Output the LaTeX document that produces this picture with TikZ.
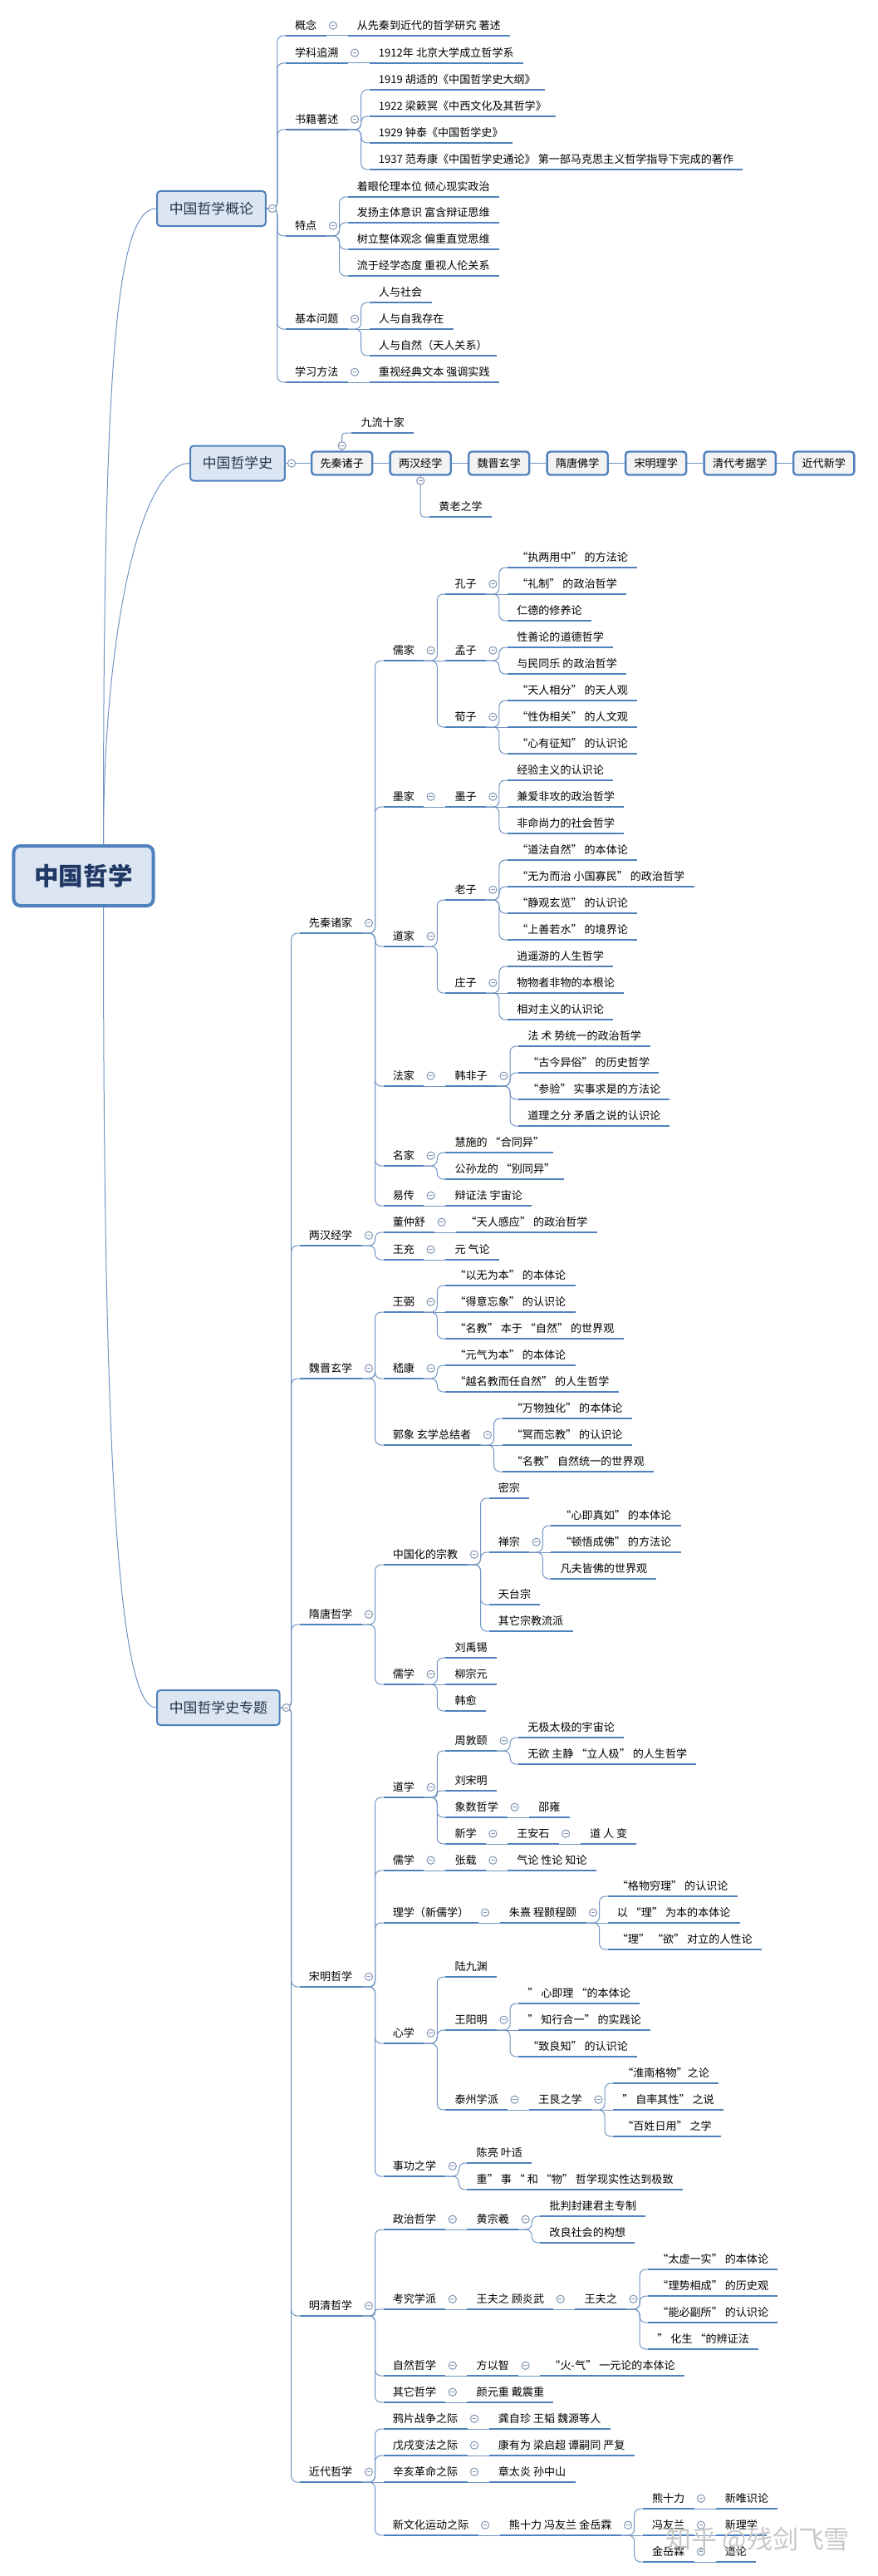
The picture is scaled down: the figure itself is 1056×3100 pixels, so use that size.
\documentclass[tikz,border=0pt]{standalone}
\usepackage{fontspec}
\setmainfont{Noto Sans CJK SC}
\usetikzlibrary{positioning}

\definecolor{ulblue}{RGB}{79,129,189}
\definecolor{linkblue}{RGB}{112,148,196}
\definecolor{boxfill}{RGB}{220,230,242}
\definecolor{erafill}{RGB}{243,243,243}
\definecolor{foldgray}{RGB}{128,148,180}
\definecolor{boxtext}{RGB}{38,52,75}
\definecolor{roottext}{RGB}{31,56,100}

\tikzset{
  topic/.style={anchor=south west, font=\fontsize{9.3}{11}\selectfont,
    inner xsep=2.75mm, inner ysep=1.35mm, text height=2.9mm, text depth=0.4mm,
    append after command={(\tikzlastnode.south west) edge[uline] (\tikzlastnode.south east)}},
  uline/.style={draw=ulblue, line width=0.65mm},
  rootbox/.style={draw=ulblue, fill=boxfill, line width=1mm, rounded corners=2mm,
    font=\fontsize{21}{24}\selectfont\bfseries, text=roottext,
    minimum width=42mm, minimum height=18mm},
  mainbox/.style={draw=ulblue, fill=boxfill, line width=0.5mm, rounded corners=1mm,
    font=\fontsize{12}{14}\selectfont, text=boxtext, inner xsep=3.7mm, minimum height=10.5mm},
  erabox/.style={draw=ulblue, fill=erafill, line width=0.6mm, rounded corners=1mm,
    font=\fontsize{9.3}{11}\selectfont, inner xsep=2.6mm, minimum height=7mm},
  link/.style={draw=linkblue, line width=0.25mm},
  foldmark/.style={circle, draw=foldgray, fill=white, line width=0.25mm, minimum size=2.3mm,
    inner sep=0pt, path picture={\draw[foldgray, line width=0.25mm]
      ([xshift=-0.6mm]path picture bounding box.center) -- ([xshift=0.6mm]path picture bounding box.center);}}
}

\begin{document}
\begin{tikzpicture}[x=0.25mm, y=-0.25mm]
  \fill[white] (0,0) rectangle (1056,3100);
  \useasboundingbox (0,0) rectangle (1056,3100);

  \node[rootbox] (root) at (100.5,1054) {中国哲学};

  % 中国哲学概论
  \node[mainbox, anchor=west] (gl) at (188,251) {中国哲学概论};
  \node[topic] (gn) at ([xshift=5.75mm]gl.east |- 0,43) {概念};
  \node[topic] (xk) at ([xshift=5.75mm]gl.east |- 0,76) {学科追溯};
  \node[topic] (sj) at ([xshift=5.75mm]gl.east |- 0,156) {书籍著述};
  \node[topic] (td) at ([xshift=5.75mm]gl.east |- 0,284) {特点};
  \node[topic] (jb) at ([xshift=5.75mm]gl.east |- 0,396) {基本问题};
  \node[topic] (xf) at ([xshift=5.75mm]gl.east |- 0,460) {学习方法};
  \node[topic] (gn1) at ([xshift=6.5mm]gn.south east |- 0,43) {从先秦到近代的哲学研究 著述};
  \node[topic] (xk1) at ([xshift=6.5mm]xk.south east |- 0,76) {1912年 北京大学成立哲学系};
  \node[topic] (sj1) at ([xshift=6.5mm]sj.south east |- 0,108) {1919 胡适的《中国哲学史大纲》};
  \node[topic] (sj2) at ([xshift=6.5mm]sj.south east |- 0,140) {1922 梁簌冥《中西文化及其哲学》};
  \node[topic] (sj3) at ([xshift=6.5mm]sj.south east |- 0,172) {1929 钟泰《中国哲学史》};
  \node[topic] (sj4) at ([xshift=6.5mm]sj.south east |- 0,204) {1937 范寿康《中国哲学史通论》 第一部马克思主义哲学指导下完成的著作};
  \node[topic] (td1) at ([xshift=6.5mm]td.south east |- 0,237) {着眼伦理本位 倾心现实政治};
  \node[topic] (td2) at ([xshift=6.5mm]td.south east |- 0,268) {发扬主体意识 富含辩证思维};
  \node[topic] (td3) at ([xshift=6.5mm]td.south east |- 0,300) {树立整体观念 偏重直觉思维};
  \node[topic] (td4) at ([xshift=6.5mm]td.south east |- 0,332) {流于经学态度 重视人伦关系};
  \node[topic] (jb1) at ([xshift=6.5mm]jb.south east |- 0,364) {人与社会};
  \node[topic] (jb2) at ([xshift=6.5mm]jb.south east |- 0,396) {人与自我存在};
  \node[topic] (jb3) at ([xshift=6.5mm]jb.south east |- 0,428) {人与自然（天人关系）};
  \node[topic] (xf1) at ([xshift=6.5mm]xf.south east |- 0,460) {重视经典文本 强调实践};

  % 中国哲学史
  \node[mainbox, anchor=west] (zs) at (228,557.5) {中国哲学史};
  \node[erabox, right=7.5mm of zs] (xqzz) {先秦诸子};
  \node[erabox, right=4.75mm of xqzz] (lhjx) {两汉经学};
  \node[erabox, right=4.75mm of lhjx] (wjxx) {魏晋玄学};
  \node[erabox, right=4.75mm of wjxx] (stfx) {隋唐佛学};
  \node[erabox, right=4.75mm of stfx] (smlx) {宋明理学};
  \node[erabox, right=4.75mm of smlx] (qdkj) {清代考据学};
  \node[erabox, right=4.75mm of qdkj] (jdxx) {近代新学};
  \node[topic] (jlsj) at ([xshift=2.9mm]xqzz.north |- 0,521) {九流十家};
  \node[topic] (hlzx) at ([xshift=2.75mm]lhjx.south |- 0,622) {黄老之学};

  % 中国哲学史专题
  \node[mainbox, anchor=west] (zt) at (188,2055) {中国哲学史专题};
  \node[topic] (qz) at ([xshift=5.75mm]zt.east |- 0,1123) {先秦诸家};
  \node[topic] (lhj) at ([xshift=5.75mm]zt.east |- 0,1499) {两汉经学};
  \node[topic] (wj) at ([xshift=5.75mm]zt.east |- 0,1659) {魏晋玄学};
  \node[topic] (sts) at ([xshift=5.75mm]zt.east |- 0,1955) {隋唐哲学};
  \node[topic] (smz) at ([xshift=5.75mm]zt.east |- 0,2391) {宋明哲学};
  \node[topic] (mq) at ([xshift=5.75mm]zt.east |- 0,2787) {明清哲学};
  \node[topic] (jd) at ([xshift=5.75mm]zt.east |- 0,2987) {近代哲学};

  % 先秦诸家
  \node[topic] (rj) at ([xshift=6.5mm]qz.south east |- 0,795) {儒家};
  \node[topic] (mj) at ([xshift=6.5mm]qz.south east |- 0,971) {墨家};
  \node[topic] (dj) at ([xshift=6.5mm]qz.south east |- 0,1139) {道家};
  \node[topic] (fj) at ([xshift=6.5mm]qz.south east |- 0,1307) {法家};
  \node[topic] (mjia) at ([xshift=6.5mm]qz.south east |- 0,1403) {名家};
  \node[topic] (yz) at ([xshift=6.5mm]qz.south east |- 0,1451) {易传};
  \node[topic] (kz) at ([xshift=6.5mm]rj.south east |- 0,715) {孔子};
  \node[topic] (mz) at ([xshift=6.5mm]rj.south east |- 0,795) {孟子};
  \node[topic] (xz) at ([xshift=6.5mm]rj.south east |- 0,875) {荀子};
  \node[topic] (kz1) at ([xshift=6.5mm]kz.south east |- 0,683) {“执两用中” 的方法论};
  \node[topic] (kz2) at ([xshift=6.5mm]kz.south east |- 0,715) {“礼制” 的政治哲学};
  \node[topic] (kz3) at ([xshift=6.5mm]kz.south east |- 0,747) {仁德的修养论};
  \node[topic] (mz1) at ([xshift=6.5mm]mz.south east |- 0,779) {性善论的道德哲学};
  \node[topic] (mz2) at ([xshift=6.5mm]mz.south east |- 0,811) {与民同乐 的政治哲学};
  \node[topic] (xz1) at ([xshift=6.5mm]xz.south east |- 0,843) {“天人相分” 的天人观};
  \node[topic] (xz2) at ([xshift=6.5mm]xz.south east |- 0,875) {“性伪相关” 的人文观};
  \node[topic] (xz3) at ([xshift=6.5mm]xz.south east |- 0,907) {“心有征知” 的认识论};
  \node[topic] (mo) at ([xshift=6.5mm]mj.south east |- 0,971) {墨子};
  \node[topic] (mo1) at ([xshift=6.5mm]mo.south east |- 0,939) {经验主义的认识论};
  \node[topic] (mo2) at ([xshift=6.5mm]mo.south east |- 0,971) {兼爱非攻的政治哲学};
  \node[topic] (mo3) at ([xshift=6.5mm]mo.south east |- 0,1003) {非命尚力的社会哲学};
  \node[topic] (lz) at ([xshift=6.5mm]dj.south east |- 0,1083) {老子};
  \node[topic] (zz) at ([xshift=6.5mm]dj.south east |- 0,1195) {庄子};
  \node[topic] (lz1) at ([xshift=6.5mm]lz.south east |- 0,1035) {“道法自然” 的本体论};
  \node[topic] (lz2) at ([xshift=6.5mm]lz.south east |- 0,1067) {“无为而治 小国寡民” 的政治哲学};
  \node[topic] (lz3) at ([xshift=6.5mm]lz.south east |- 0,1099) {“静观玄览” 的认识论};
  \node[topic] (lz4) at ([xshift=6.5mm]lz.south east |- 0,1131) {“上善若水” 的境界论};
  \node[topic] (zz1) at ([xshift=6.5mm]zz.south east |- 0,1163) {逍遥游的人生哲学};
  \node[topic] (zz2) at ([xshift=6.5mm]zz.south east |- 0,1195) {物物者非物的本根论};
  \node[topic] (zz3) at ([xshift=6.5mm]zz.south east |- 0,1227) {相对主义的认识论};
  \node[topic] (hf) at ([xshift=6.5mm]fj.south east |- 0,1307) {韩非子};
  \node[topic] (hf1) at ([xshift=6.5mm]hf.south east |- 0,1259) {法 术 势统一的政治哲学};
  \node[topic] (hf2) at ([xshift=6.5mm]hf.south east |- 0,1291) {“古今异俗” 的历史哲学};
  \node[topic] (hf3) at ([xshift=6.5mm]hf.south east |- 0,1323) {“参验” 实事求是的方法论};
  \node[topic] (hf4) at ([xshift=6.5mm]hf.south east |- 0,1355) {道理之分 矛盾之说的认识论};
  \node[topic] (mjia1) at ([xshift=6.5mm]mjia.south east |- 0,1387) {慧施的 “合同异”};
  \node[topic] (mjia2) at ([xshift=6.5mm]mjia.south east |- 0,1419) {公孙龙的 “别同异”};
  \node[topic] (yz1) at ([xshift=6.5mm]yz.south east |- 0,1451) {辩证法 宇宙论};

  % 两汉经学 / 魏晋玄学
  \node[topic] (dzs) at ([xshift=6.5mm]lhj.south east |- 0,1483) {董仲舒};
  \node[topic] (wc) at ([xshift=6.5mm]lhj.south east |- 0,1516) {王充};
  \node[topic] (dzs1) at ([xshift=6.5mm]dzs.south east |- 0,1483) {“天人感应” 的政治哲学};
  \node[topic] (wc1) at ([xshift=6.5mm]wc.south east |- 0,1516) {元 气论};
  \node[topic] (wb) at ([xshift=6.5mm]wj.south east |- 0,1579) {王弼};
  \node[topic] (jk) at ([xshift=6.5mm]wj.south east |- 0,1659) {嵇康};
  \node[topic] (gx) at ([xshift=6.5mm]wj.south east |- 0,1739) {郭象 玄学总结者};
  \node[topic] (wb1) at ([xshift=6.5mm]wb.south east |- 0,1547) {“以无为本” 的本体论};
  \node[topic] (wb2) at ([xshift=6.5mm]wb.south east |- 0,1579) {“得意忘象” 的认识论};
  \node[topic] (wb3) at ([xshift=6.5mm]wb.south east |- 0,1611) {“名教” 本于 “自然” 的世界观};
  \node[topic] (jk1) at ([xshift=6.5mm]jk.south east |- 0,1643) {“元气为本” 的本体论};
  \node[topic] (jk2) at ([xshift=6.5mm]jk.south east |- 0,1675) {“越名教而任自然” 的人生哲学};
  \node[topic] (gx1) at ([xshift=6.5mm]gx.south east |- 0,1707) {“万物独化” 的本体论};
  \node[topic] (gx2) at ([xshift=6.5mm]gx.south east |- 0,1739) {“冥而忘教” 的认识论};
  \node[topic] (gx3) at ([xshift=6.5mm]gx.south east |- 0,1771) {“名教” 自然统一的世界观};

  % 隋唐哲学
  \node[topic] (zh) at ([xshift=6.5mm]sts.south east |- 0,1883) {中国化的宗教};
  \node[topic] (rx) at ([xshift=6.5mm]sts.south east |- 0,2027) {儒学};
  \node[topic] (mi) at ([xshift=6.5mm]zh.south east |- 0,1803) {密宗};
  \node[topic] (cz) at ([xshift=6.5mm]zh.south east |- 0,1868) {禅宗};
  \node[topic] (tt) at ([xshift=6.5mm]zh.south east |- 0,1931) {天台宗};
  \node[topic] (qt) at ([xshift=6.5mm]zh.south east |- 0,1963) {其它宗教流派};
  \node[topic] (cz1) at ([xshift=6.5mm]cz.south east |- 0,1836) {“心即真如” 的本体论};
  \node[topic] (cz2) at ([xshift=6.5mm]cz.south east |- 0,1868) {“顿悟成佛” 的方法论};
  \node[topic] (cz3) at ([xshift=6.5mm]cz.south east |- 0,1900) {凡夫皆佛的世界观};
  \node[topic] (lyx) at ([xshift=6.5mm]rx.south east |- 0,1995) {刘禹锡};
  \node[topic] (lzy) at ([xshift=6.5mm]rx.south east |- 0,2027) {柳宗元};
  \node[topic] (hy) at ([xshift=6.5mm]rx.south east |- 0,2059) {韩愈};

  % 宋明哲学
  \node[topic] (dx) at ([xshift=6.5mm]smz.south east |- 0,2163) {道学};
  \node[topic] (rx2) at ([xshift=6.5mm]smz.south east |- 0,2251) {儒学};
  \node[topic] (lx) at ([xshift=6.5mm]smz.south east |- 0,2314) {理学（新儒学）};
  \node[topic] (xinx) at ([xshift=6.5mm]smz.south east |- 0,2459) {心学};
  \node[topic] (sg) at ([xshift=6.5mm]smz.south east |- 0,2619) {事功之学};
  \node[topic] (zdy) at ([xshift=6.5mm]dx.south east |- 0,2107) {周敦颐};
  \node[topic] (lsm) at ([xshift=6.5mm]dx.south east |- 0,2155) {刘宋明};
  \node[topic] (xs) at ([xshift=6.5mm]dx.south east |- 0,2187) {象数哲学};
  \node[topic] (xx) at ([xshift=6.5mm]dx.south east |- 0,2219) {新学};
  \node[topic] (zdy1) at ([xshift=6.5mm]zdy.south east |- 0,2091) {无极太极的宇宙论};
  \node[topic] (zdy2) at ([xshift=6.5mm]zdy.south east |- 0,2123) {无欲 主静 “立人极” 的人生哲学};
  \node[topic] (sy) at ([xshift=6.5mm]xs.south east |- 0,2187) {邵雍};
  \node[topic] (was) at ([xshift=6.5mm]xx.south east |- 0,2219) {王安石};
  \node[topic] (was1) at ([xshift=6.5mm]was.south east |- 0,2219) {道 人 变};
  \node[topic] (zzai) at ([xshift=6.5mm]rx2.south east |- 0,2251) {张载};
  \node[topic] (zzai1) at ([xshift=6.5mm]zzai.south east |- 0,2251) {气论 性论 知论};
  \node[topic] (zx) at ([xshift=6.5mm]lx.south east |- 0,2314) {朱熹 程颢程颐};
  \node[topic] (zx1) at ([xshift=6.5mm]zx.south east |- 0,2282) {“格物穷理” 的认识论};
  \node[topic] (zx2) at ([xshift=6.5mm]zx.south east |- 0,2314) {以 “理” 为本的本体论};
  \node[topic] (zx3) at ([xshift=6.5mm]zx.south east |- 0,2346) {“理” “欲” 对立的人性论};
  \node[topic] (ljy) at ([xshift=6.5mm]xinx.south east |- 0,2379) {陆九渊};
  \node[topic] (wym) at ([xshift=6.5mm]xinx.south east |- 0,2443) {王阳明};
  \node[topic] (tz) at ([xshift=6.5mm]xinx.south east |- 0,2539) {泰州学派};
  \node[topic] (wym1) at ([xshift=6.5mm]wym.south east |- 0,2411) {” 心即理 “的本体论};
  \node[topic] (wym2) at ([xshift=6.5mm]wym.south east |- 0,2443) {” 知行合一” 的实践论};
  \node[topic] (wym3) at ([xshift=6.5mm]wym.south east |- 0,2475) {“致良知” 的认识论};
  \node[topic] (wg) at ([xshift=6.5mm]tz.south east |- 0,2539) {王艮之学};
  \node[topic] (wg1) at ([xshift=6.5mm]wg.south east |- 0,2507) {“淮南格物”之论};
  \node[topic] (wg2) at ([xshift=6.5mm]wg.south east |- 0,2539) {” 自率其性” 之说};
  \node[topic] (wg3) at ([xshift=6.5mm]wg.south east |- 0,2571) {“百姓日用” 之学};
  \node[topic] (sg1) at ([xshift=6.5mm]sg.south east |- 0,2603) {陈亮 叶适};
  \node[topic] (sg2) at ([xshift=6.5mm]sg.south east |- 0,2635) {重” 事 “ 和 “物” 哲学现实性达到极致};

  % 明清哲学
  \node[topic] (zzx) at ([xshift=6.5mm]mq.south east |- 0,2683) {政治哲学};
  \node[topic] (kj) at ([xshift=6.5mm]mq.south east |- 0,2779) {考究学派};
  \node[topic] (zr) at ([xshift=6.5mm]mq.south east |- 0,2859) {自然哲学};
  \node[topic] (qtz) at ([xshift=6.5mm]mq.south east |- 0,2891) {其它哲学};
  \node[topic] (hzx) at ([xshift=6.5mm]zzx.south east |- 0,2683) {黄宗羲};
  \node[topic] (hzx1) at ([xshift=6.5mm]hzx.south east |- 0,2667) {批判封建君主专制};
  \node[topic] (hzx2) at ([xshift=6.5mm]hzx.south east |- 0,2699) {改良社会的构想};
  \node[topic] (wgy) at ([xshift=6.5mm]kj.south east |- 0,2779) {王夫之 顾炎武};
  \node[topic] (wfz) at ([xshift=6.5mm]wgy.south east |- 0,2779) {王夫之};
  \node[topic] (wfz1) at ([xshift=6.5mm]wfz.south east |- 0,2731) {“太虚一实” 的本体论};
  \node[topic] (wfz2) at ([xshift=6.5mm]wfz.south east |- 0,2763) {“理势相成” 的历史观};
  \node[topic] (wfz3) at ([xshift=6.5mm]wfz.south east |- 0,2795) {“能必副所” 的认识论};
  \node[topic] (wfz4) at ([xshift=6.5mm]wfz.south east |- 0,2827) {” 化生 “的辨证法};
  \node[topic] (fyz) at ([xshift=6.5mm]zr.south east |- 0,2859) {方以智};
  \node[topic] (fyz1) at ([xshift=6.5mm]fyz.south east |- 0,2859) {“火-气” 一元论的本体论};
  \node[topic] (yd) at ([xshift=6.5mm]qtz.south east |- 0,2891) {颜元重 戴震重};

  % 近代哲学
  \node[topic] (yp) at ([xshift=6.5mm]jd.south east |- 0,2923) {鸦片战争之际};
  \node[topic] (wx) at ([xshift=6.5mm]jd.south east |- 0,2955) {戊戌变法之际};
  \node[topic] (xh) at ([xshift=6.5mm]jd.south east |- 0,2987) {辛亥革命之际};
  \node[topic] (xwh) at ([xshift=6.5mm]jd.south east |- 0,3051) {新文化运动之际};
  \node[topic] (yp1) at ([xshift=6.5mm]yp.south east |- 0,2923) {龚自珍 王韬 魏源等人};
  \node[topic] (wx1) at ([xshift=6.5mm]wx.south east |- 0,2955) {康有为 梁启超 谭嗣同 严复};
  \node[topic] (xh1) at ([xshift=6.5mm]xh.south east |- 0,2987) {章太炎 孙中山};
  \node[topic] (xwh1) at ([xshift=6.5mm]xwh.south east |- 0,3051) {熊十力 冯友兰 金岳霖};
  \node[topic] (xsl) at ([xshift=6.5mm]xwh1.south east |- 0,3019) {熊十力};
  \node[topic] (fyl) at ([xshift=6.5mm]xwh1.south east |- 0,3051) {冯友兰};
  \node[topic] (jyl) at ([xshift=6.5mm]xwh1.south east |- 0,3083) {金岳霖};
  \node[topic] (xsl1) at ([xshift=6.5mm]xsl.south east |- 0,3019) {新唯识论};
  \node[topic] (fyl1) at ([xshift=6.5mm]fyl.south east |- 0,3051) {新理学};
  \node[topic] (jyl1) at ([xshift=6.5mm]jyl.south east |- 0,3083) {道论};

  % links from the root
  \draw[link] ([xshift=6mm]root.north) .. controls +(0,-560) and +(-50,0) .. (gl.west);
  \draw[link] ([xshift=6mm]root.north) .. controls +(0,-250) and +(-60,0) .. (zs.west);
  \draw[link] ([xshift=6mm]root.south) .. controls +(0,600) and +(-50,0) .. (zt.west);

  % boxes to their topics
  \foreach \b in {gn,xk,sj,td,jb,xf}
    \draw[link, rounded corners=1.8mm] (gl.east) -| ([xshift=-2.5mm]\b.south west) -- (\b.south west);
  \foreach \b in {qz,lhj,wj,sts,smz,mq,jd}
    \draw[link, rounded corners=1.8mm] (zt.east) -| ([xshift=-2.5mm]\b.south west) -- (\b.south west);

  % era chain
  \draw[link] (zs.east) -- (xqzz.west);
  \foreach \a/\b in {xqzz/lhjx, lhjx/wjxx, wjxx/stfx, stfx/smlx, smlx/qdkj, qdkj/jdxx}
    \draw[link] (\a.east) -- (\b.west);
  \draw[link, rounded corners=1mm] (xqzz.north) |- (jlsj.south west);
  \draw[link, rounded corners=1mm] (lhjx.south) |- (hlzx.south west);

  % elbow links
  \foreach \a/\b in {sj/sj1, sj/sj2, sj/sj3, sj/sj4, td/td1, td/td2, td/td3, td/td4, jb/jb1, jb/jb3,
      qz/rj, qz/mj, qz/dj, qz/fj, qz/mjia, qz/yz, rj/kz, rj/xz, kz/kz1, kz/kz3, mz/mz1, mz/mz2,
      xz/xz1, xz/xz3, mo/mo1, mo/mo3, dj/lz, dj/zz, lz/lz1, lz/lz2, lz/lz3, lz/lz4, zz/zz1, zz/zz3,
      hf/hf1, hf/hf2, hf/hf3, hf/hf4, mjia/mjia1, mjia/mjia2, lhj/dzs, lhj/wc, wj/wb, wj/jk, wj/gx,
      wb/wb1, wb/wb3, jk/jk1, jk/jk2, gx/gx1, gx/gx3, sts/zh, sts/rx, zh/mi, zh/cz, zh/tt, zh/qt,
      cz/cz1, cz/cz3, rx/lyx, rx/hy, smz/dx, smz/rx2, smz/lx, smz/xinx, smz/sg, dx/zdy, dx/xs, dx/xx,
      zdy/zdy1, zdy/zdy2, zx/zx1, zx/zx3, xinx/ljy, xinx/wym, xinx/tz, wym/wym1, wym/wym3,
      wg/wg1, wg/wg3, sg/sg1, sg/sg2, mq/zzx, mq/zr, mq/qtz, hzx/hzx1, hzx/hzx2,
      wfz/wfz1, wfz/wfz2, wfz/wfz3, wfz/wfz4, jd/yp, jd/wx, jd/xwh, xwh1/xsl, xwh1/jyl}
    \draw[link, rounded corners=1.8mm] (\a.south east) -| ([xshift=-2.5mm]\b.south west) -- (\b.south west);
  \foreach \a/\b in {dx/lsm, mq/kj}
    \draw[link, rounded corners=0.8mm] (\a.south east) -| ([xshift=-2.5mm]\b.south west) -- (\b.south west);

  % straight links
  \foreach \a/\b in {gn/gn1, xk/xk1, xf/xf1, jb/jb2, rj/mz, kz/kz2, xz/xz2, mj/mo, mo/mo2, zz/zz2,
      fj/hf, yz/yz1, dzs/dzs1, wc/wc1, wb/wb2, gx/gx2, cz/cz2, rx/lzy, xs/sy, xx/was, was/was1,
      rx2/zzai, zzai/zzai1, lx/zx, zx/zx2, wym/wym2, tz/wg, wg/wg2, zzx/hzx, kj/wgy, wgy/wfz,
      zr/fyz, fyz/fyz1, qtz/yd, jd/xh, yp/yp1, wx/wx1, xh/xh1, xwh/xwh1, xwh1/fyl,
      xsl/xsl1, fyl/fyl1, jyl/jyl1}
    \draw[link] (\a.south east) -- (\b.south west);

  % fold marks
  \foreach \n in {gl,zs,zt}
    \node[foldmark] (\n-f) at ([xshift=1.75mm]\n.east) {};
  \node[foldmark] (xqzz-f) at ([yshift=1.5mm]xqzz.north) {};
  \node[foldmark] (lhjx-f) at ([yshift=-1.5mm]lhjx.south) {};
  \foreach \n in {gn,xk,sj,td,jb,xf,qz,rj,kz,mz,xz,mj,mo,dj,lz,zz,fj,hf,mjia,yz,lhj,dzs,wc,wj,wb,jk,gx,
      sts,zh,cz,rx,smz,dx,zdy,xs,xx,was,rx2,zzai,lx,zx,xinx,wym,tz,wg,sg,mq,zzx,hzx,kj,wgy,wfz,zr,fyz,
      qtz,jd,yp,wx,xh,xwh,xwh1,xsl,fyl,jyl}
    \node[foldmark] (\n-f) at ([xshift=2.1mm]\n.east) {};

  % watermark
  \node[font=\fontsize{22}{24}\selectfont, text=black!22] (wm) at (912,3057) {知乎 @残剑飞雪};
\end{tikzpicture}
\end{document}
